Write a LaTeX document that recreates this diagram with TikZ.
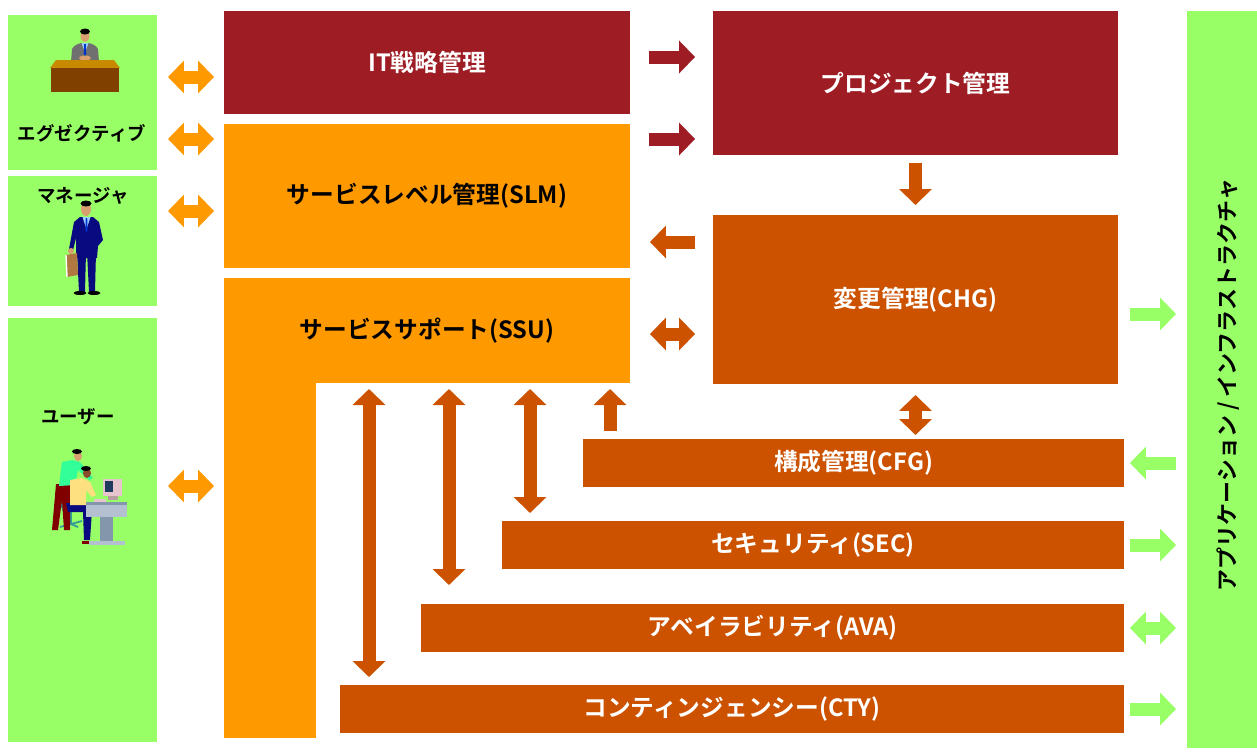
\documentclass[tikz,border=0pt]{standalone}
\usepackage{fontspec}
\setmainfont{Noto Sans CJK JP}[BoldFont={Noto Sans CJK JP Bold}]
\usetikzlibrary{arrows.meta}
\definecolor{itred}{HTML}{9E1D25}
\definecolor{svcorange}{HTML}{FF9900}
\definecolor{opsbrown}{HTML}{CC5200}
\definecolor{rolegreen}{HTML}{99FF66}
% clip-art colours
\definecolor{skin}{HTML}{D8A070}
\definecolor{darkskin}{HTML}{8B4A2B}
\definecolor{suitgrey}{HTML}{707070}
\definecolor{shirtblue}{HTML}{99CCFF}
\definecolor{tieblue}{HTML}{0033CC}
\definecolor{deskgold}{HTML}{C88A00}
\definecolor{deskbrown}{HTML}{7F4000}
\definecolor{suitnavy}{HTML}{0A0A80}
\definecolor{briefcase}{HTML}{B07840}
\definecolor{shirtgreen}{HTML}{33FF99}
\definecolor{pantsred}{HTML}{800000}
\definecolor{chairteal}{HTML}{339999}
\definecolor{shirtyellow}{HTML}{FFE080}
\definecolor{deskgrey}{HTML}{B4C0D0}
\definecolor{legsteel}{HTML}{8496AC}
\definecolor{monpink}{HTML}{E6C6CC}
\definecolor{screenblue}{HTML}{1F3A5F}

\begin{document}
\begin{tikzpicture}[x=0.02cm,y=-0.02cm,
    every node/.style={inner sep=0pt,outer sep=0pt},
    area/.style={rectangle,font=\bfseries\fontsize{13.5}{16}\selectfont},
    rolebox/.style={rectangle,fill=rolegreen,minimum width=2.98cm},
    rolename/.style={font=\bfseries\fontsize{10.5}{12}\selectfont},
    bar/.style={area,fill=opsbrown,text=white,minimum height=0.96cm},
    fat/.style={line width=0.26cm,draw=#1},
    >={Triangle[length=0.32cm,width=0.64cm]}]
  \useasboundingbox (0,0) rectangle (1257,752);

  % roles on the left
  \node[rolebox,minimum height=3.10cm] (exec) at (82.5,92.5) {};
  \node[rolebox,minimum height=2.60cm] (mgr) at (82.5,241) {};
  \node[rolebox,minimum height=8.48cm] (usr) at (82.5,530) {};
  \node[rolename] (execlbl) at (82,133) {エグゼクティブ};
  \node[rolename] (mgrlbl) at (83,196) {マネージャ};
  \node[rolename] (usrlbl) at (78,417) {ユーザー};

  % management areas
  \node[area,fill=itred,text=white,minimum width=8.12cm,minimum height=2.06cm]
    (it) at (427,62.5) {IT戦略管理};
  \node[area,fill=svcorange,minimum width=8.12cm,minimum height=2.88cm]
    (slm) at (427,196) {サービスレベル管理(SLM)};
  \node[area,fill=svcorange,minimum width=8.12cm,minimum height=2.10cm]
    (ssu) at (427,330.5) {サービスサポート(SSU)};
  \fill[svcorange] (ssu.south west) rectangle (316,738);
  \node[area,fill=itred,text=white,minimum width=8.10cm,minimum height=2.88cm]
    (prj) at (915.5,83) {プロジェクト管理};
  \node[area,fill=opsbrown,text=white,minimum width=8.10cm,minimum height=3.38cm]
    (chg) at (915.5,299.5) {変更管理(CHG)};
  \node[bar,minimum width=10.82cm] (cfg) at (853.5,463) {構成管理(CFG)};
  \node[bar,minimum width=12.44cm] (sec) at (813,545) {セキュリティ(SEC)};
  \node[bar,minimum width=14.06cm] (ava) at (772.5,628) {アベイラビリティ(AVA)};
  \node[bar,minimum width=15.68cm] (cty) at (732,709) {コンティンジェンシー(CTY)};

  % application / infrastructure
  \node[rectangle,fill=rolegreen,minimum width=1.40cm,minimum height=14.74cm]
    (app) at (1222,379.5) {};
  \node[rotate=90,font=\bfseries\fontsize{12.5}{14}\selectfont]
    (applbl) at (1228,385) {アプリケーション / インフラストラクチャ};

  % arrows: roles
  \draw[fat=svcorange,<->,shorten <=0.22cm,shorten >=0.2cm] (exec.east |- 0,77) -- (it.west |- 0,77);
  \draw[fat=svcorange,<->,shorten <=0.22cm,shorten >=0.2cm] (exec.east |- 0,139) -- (slm.west |- 0,139);
  \draw[fat=svcorange,<->,shorten <=0.22cm,shorten >=0.2cm] (mgr.east |- 0,211) -- (slm.west |- 0,211);
  \draw[fat=svcorange,<->,shorten <=0.22cm,shorten >=0.2cm] (usr.east |- 0,486) -- (ssu.west |- 0,486);

  % arrows: between areas
  \draw[fat=itred,->,shorten <=0.38cm,shorten >=0.36cm] (it.east |- 0,57) -- (prj.west |- 0,57);
  \draw[fat=itred,->,shorten <=0.38cm,shorten >=0.36cm] (slm.east |- 0,139) -- (prj.west |- 0,139);
  \draw[fat=opsbrown,->,shorten <=0.36cm,shorten >=0.40cm] (chg.west |- 0,242) -- (slm.east |- 0,242);
  \draw[fat=opsbrown,<->,shorten <=0.40cm,shorten >=0.36cm] (ssu.east |- 0,334) -- (chg.west |- 0,334);
  \draw[fat=opsbrown,->,shorten <=0.16cm,shorten >=0.2cm] (prj.south) -- (chg.north);
  \draw[fat=opsbrown,<->,shorten <=0.22cm,shorten >=0.08cm] (chg.south) -- (chg.south |- cfg.north);

  % arrows: service support to the bars
  \draw[fat=opsbrown,<->,shorten <=0.12cm,shorten >=0.16cm] (ssu.south -| 369,0) -- (cty.north -| 369,0);
  \draw[fat=opsbrown,<->,shorten <=0.12cm,shorten >=0.38cm] (ssu.south -| 449,0) -- (ava.north -| 449,0);
  \draw[fat=opsbrown,<->,shorten <=0.12cm,shorten >=0.16cm] (ssu.south -| 530,0) -- (sec.north -| 530,0);
  \draw[fat=opsbrown,->,shorten <=0.16cm,shorten >=0.12cm] (cfg.north -| 610,0) -- (ssu.south -| 610,0);

  % arrows: application / infrastructure
  \draw[fat=rolegreen,->,shorten <=0.24cm,shorten >=0.22cm] (chg.east |- 0,314) -- (app.west |- 0,314);
  \draw[fat=rolegreen,->,shorten <=0.22cm,shorten >=0.12cm] (app.west |- cfg) -- (cfg.east);
  \draw[fat=rolegreen,->,shorten <=0.12cm,shorten >=0.22cm] (sec.east) -- (app.west |- sec);
  \draw[fat=rolegreen,<->,shorten <=0.12cm,shorten >=0.22cm] (ava.east) -- (app.west |- ava);
  \draw[fat=rolegreen,->,shorten <=0.12cm,shorten >=0.22cm] (cty.east) -- (app.west |- cty);

  % executive at his desk
  \fill[suitgrey] (71,62) -- (72,49) .. controls (74,45) and (78,44) .. (81,43) -- (89,43)
    .. controls (92,44) and (96,45) .. (98,49) -- (99,62) -- cycle;
  \fill[shirtblue] (81.5,43) -- (88.5,43) -- (85,53) -- cycle;
  \fill[tieblue] (84.2,44) -- (85.8,44) -- (86.3,54) -- (85,56) -- (83.7,54) -- cycle;
  \fill[skin] (85,36) ellipse [x radius=0.09cm,y radius=0.12cm];
  \fill[black] (85,31.5) ellipse [x radius=0.1cm,y radius=0.06cm];
  \fill[skin] (85,58) ellipse [x radius=0.12cm,y radius=0.05cm];
  \fill[deskgold] (50,68) -- (56,60) -- (114,60) -- (120,68) -- cycle;
  \fill[deskbrown] (51,68) rectangle (119,92);

  % manager with briefcase
  \fill[suitnavy] (77,252) -- (86,252) -- (85,292) -- (79,292) -- cycle;
  \fill[suitnavy] (87,252) -- (96,252) -- (95,292) -- (89,292) -- cycle;
  \fill[suitnavy] (74,222) -- (80,217) -- (93,217) -- (99,222) -- (103,240) -- (98,246)
    -- (97,258) -- (76,258) -- (76,232) -- cycle;
  \fill[suitnavy] (74,222) -- (69,249) -- (73,250) -- (78,230) -- cycle;
  \fill[skin] (71,251) circle (0.06cm);
  \fill[briefcase] (66,255) -- (77,253) -- (78,275) -- (67,277) -- cycle;
  \draw[white,line width=0.8pt] (66,255) -- (67,277);
  \fill[shirtblue] (82.5,217) -- (90.5,217) -- (86.5,229) -- cycle;
  \fill[tieblue] (85.8,218) -- (87.2,218) -- (87.6,230) -- (86.5,232) -- (85.4,230) -- cycle;
  \fill[skin] (86,209) ellipse [x radius=0.1cm,y radius=0.14cm];
  \fill[black] (86,203.5) ellipse [x radius=0.11cm,y radius=0.06cm];
  \fill[black] (80,293) ellipse [x radius=0.13cm,y radius=0.04cm];
  \fill[black] (94,293) ellipse [x radius=0.13cm,y radius=0.04cm];

  % users at the computer
  \fill[chairteal] (60,488) rectangle (64,508);
  \fill[chairteal] (62,505) rectangle (80,511);
  \fill[chairteal] (70,511) rectangle (72,524);
  \draw[chairteal,line width=1pt] (60,527) -- (82,521) (64,521) -- (78,527);
  \fill[pantsred] (56,484) -- (70,484) -- (70,530) -- (64,530) -- (62,500) -- (58,530) -- (52,530) -- cycle;
  \fill[shirtgreen] (62,462) -- (72,460) -- (80,462) -- (93,478) -- (89,480) -- (78,470)
    -- (75,485) -- (59,486) -- cycle;
  \fill[skin] (78,456) ellipse [x radius=0.08cm,y radius=0.1cm];
  \fill[black] (77,451.5) ellipse [x radius=0.1cm,y radius=0.05cm];
  \fill[suitnavy] (66,503) -- (90,503) -- (92,510) -- (90,540) -- (84,540) -- (83,512) -- (68,512) -- cycle;
  \fill[pantsred] (82,541) rectangle (92,544);
  \fill[shirtyellow] (70,480) -- (82,478) -- (90,482) -- (96,495) -- (92,497) -- (86,490)
    -- (86,505) -- (70,505) -- cycle;
  \fill[darkskin] (87,473) ellipse [x radius=0.08cm,y radius=0.1cm];
  \fill[black] (86,468.5) ellipse [x radius=0.1cm,y radius=0.05cm];
  \fill[deskgrey] (86,503) rectangle (127,517);
  \fill[legsteel] (86,502) rectangle (127,505);
  \fill[legsteel] (100,517) rectangle (113,542);
  \fill[deskgrey] (89,541) rectangle (125,545);
  \fill[monpink] (103,479) rectangle (122,496);
  \fill[screenblue] (105,481) rectangle (113,492);
  \fill[monpink!80!black] (108,496) rectangle (118,500);
  \fill[monpink] (94,499) rectangle (106,502);
\end{tikzpicture}
\end{document}
